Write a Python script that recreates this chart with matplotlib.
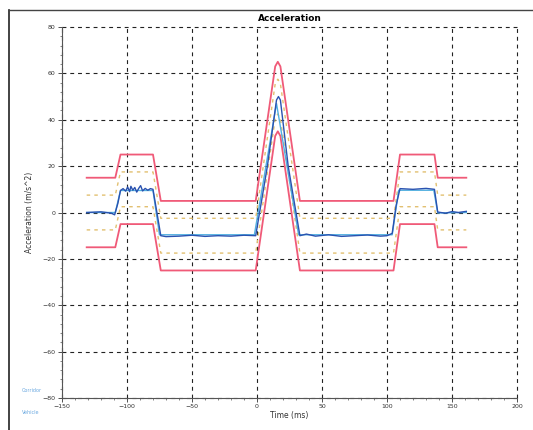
import matplotlib
matplotlib.use("Agg")
import matplotlib.pyplot as plt
from matplotlib.lines import Line2D
from matplotlib.ticker import MultipleLocator

# --- data ---
# corridor break points (ms) shared by the envelope curves
t_corr = [-131, -109, -105, -80, -74, -1, 14, 18, 33, 105, 110, 136.5, 139, 161]
outer_upper = [15, 15, 25, 25, 5, 5, 63, 63, 5, 5, 25, 25, 15, 15]
outer_lower = [-15, -15, -5, -5, -25, -25, 33, 33, -25, -25, -5, -5, -15, -15]
inner_upper = [7.5, 7.5, 17.5, 17.5, -2.5, -2.5, 55.5, 55.5, -2.5, -2.5, 17.5, 17.5, 7.5, 7.5]
inner_lower = [-7.5, -7.5, 2.5, 2.5, -17.5, -17.5, 40.5, 40.5, -17.5, -17.5, 2.5, 2.5, -7.5, -7.5]
t_peak = [14, 16, 18]
outer_upper_peak = [63, 65, 63]
outer_lower_peak = [33, 35, 33]
inner_upper_peak = [55.5, 57.5, 55.5]
inner_lower_peak = [40.5, 42.5, 40.5]

# measured signal (dark blue), with the visible wiggles
t_meas = [-131, -120, -112, -109.5, -107, -105, -103, -101, -99.5, -98, -97, -95.5,
          -94, -92.5, -91, -89.5, -88, -86, -84, -82, -80, -77, -74, -70, -60,
          -50, -40, -30, -20, -10, -1, 8, 15, 16.5, 18, 24, 33, 38, 45, 55, 65, 75, 85,
          95, 100, 104, 107, 110, 120, 130, 136.5, 139, 145, 150, 155, 161]
v_meas = [0, 0.3, -0.3, -1, 4, 9.5, 10.3, 9.2, 11, 9, 11.3, 9.6,
          10.8, 8.8, 10.4, 11.6, 9.3, 10.4, 9.6, 10.3, 10, 0, -10, -10.4, -10.2,
          -9.8, -10.3, -10, -10.2, -9.8, -10, 20, 48.5, 50, 48.5, 20, -10, -9.3, -10.2, -9.6, -10.3, -10, -9.7,
          -10.2, -10, -9, 3, 10.3, 10, 10.4, 10, 0.2, -0.3, 0.4, 0, 0.5]

# second trace (light blue / green), slightly offset
t_meas2 = [-131, -109, -105, -80, -75, -2, 15, 32, 104, 109, 136, 139, 161]
v_meas2 = [0, 0, 9.5, 9.5, -9.6, -9.6, 47, -9.6, -9.6, 9.6, 9.6, -0.2, 0]

legend_labels = ["Corridor", "Vehicle"]

red = "#f05a78"
yellow = "#e2c070"
blue = "#2a52b0"
lblue = "#52b0e0"

fig = plt.figure(figsize=(5.33, 4.30), dpi=100)
ax = fig.add_axes([0.1163, 0.0744, 0.8537, 0.8628])

def corridor(y, ypk, **kw):
    # splice the rounded peak into the corridor polyline
    t = t_corr[:7] + t_peak + t_corr[8:]
    v = y[:7] + ypk + y[8:]
    ax.plot(t, v, **kw)

corridor(inner_upper, inner_upper_peak, color=yellow, lw=1.0, dashes=(2.5, 3))
corridor(inner_lower, inner_lower_peak, color=yellow, lw=1.0, dashes=(2.5, 3))
corridor(outer_upper, outer_upper_peak, color=red, lw=1.3)
corridor(outer_lower, outer_lower_peak, color=red, lw=1.3)
ax.plot(t_meas2, v_meas2, color=lblue, lw=1.0)
ax.plot(t_meas, v_meas, color=blue, lw=1.0)

ax.set_xlim(-150, 200)
ax.set_ylim(-80, 80)
ax.xaxis.set_major_locator(MultipleLocator(50))
ax.yaxis.set_major_locator(MultipleLocator(20))
ax.xaxis.set_minor_locator(MultipleLocator(10))
ax.yaxis.set_minor_locator(MultipleLocator(4))
ax.tick_params(which="major", length=3, width=0.6, labelsize=4.5, colors="#333333", pad=1.5)
ax.tick_params(which="minor", length=1.5, width=0.5, colors="#555555")
ax.grid(True, which="major", color="#222222", lw=0.8, dashes=(3.5, 3.5))
for gl in ax.get_xgridlines() + ax.get_ygridlines():
    gl.set_clip_on(False)
for side in ["top", "right"]:
    ax.spines[side].set_visible(False)
for side in ["left", "bottom"]:
    ax.spines[side].set_color("#555555")
    ax.spines[side].set_linewidth(0.8)

ax.set_title("Acceleration", fontsize=6.5, fontweight="bold", pad=4)
ax.set_xlabel("Time (ms)", fontsize=5.5, color="#333333", labelpad=1)
ax.set_ylabel("Acceleration (m/s^2)", fontsize=5.5, color="#333333", labelpad=6)

# small legend entries at lower left
fig.text(22 / 533, 1 - 391 / 430, legend_labels[0], fontsize=3.5, color="#6aa8e0", va="center")
fig.text(22 / 533, 1 - 412 / 430, legend_labels[1], fontsize=3.5, color="#6aa8e0", va="center")

# scanned page frame
fig.add_artist(Line2D([9 / 533, 9 / 533], [0, 1 - 10 / 430], color="#222222", lw=1.2))
fig.add_artist(Line2D([9 / 533, 1], [1 - 10 / 430, 1 - 10 / 430], color="#444444", lw=1.0))

fig.savefig("out.png", dpi=100)
